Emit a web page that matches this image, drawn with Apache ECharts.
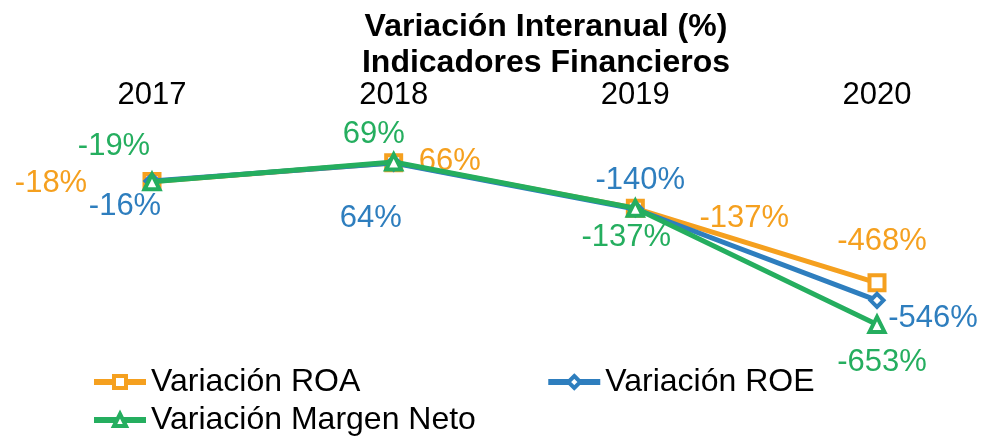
<!DOCTYPE html>
<html>
<head>
<meta charset="utf-8">
<script src="https://cdn.jsdelivr.net/npm/echarts@6/dist/echarts.min.js"></script>
<style>html,body{margin:0;padding:0;background:#fff}#c{width:984px;height:436px}</style>
</head>
<body>
<div id="c"></div>
<script>
const categories = ['2017', '2018', '2019', '2020'];
const seriesNames = ['Variación ROA', 'Variación ROE', 'Variación Margen Neto'];
const roa = [-18, 66, -137, -468];
const roe = [-16, 64, -140, -546];
const margenNeto = [-19, 69, -137, -653];

const FONT = '"Liberation Sans", Arial, sans-serif';
const colors = ['#F5A01F', '#2E7EBE', '#25AE5F'];
// label offsets (styling only)
const labelOffsets = [
  [[-101, 2], [56, -1], [109, 10], [5, -41]],
  [[-27, 25], [-23, 55], [5, -29], [56, 18]],
  [[-38, -35], [-20, -28], [-9, 29], [5, 38]]
];
const symbols = ['rect', 'diamond', 'triangle'];
const symbolSizes = [15, 13, 15];
const values = [roa, roe, margenNeto];

const series = seriesNames.map((name, i) => ({
  name: name,
  type: 'line',
  symbol: symbols[i],
  symbolSize: symbolSizes[i],
  showAllSymbol: true,
  lineStyle: { color: colors[i], width: 5 },
  itemStyle: { color: '#fff', borderColor: colors[i], borderWidth: 4 },
  data: values[i].map((v, j) => ({
    value: v,
    label: {
      show: true,
      position: 'inside',
      offset: labelOffsets[i][j],
      formatter: v + '%',
      color: colors[i],
      fontSize: 31,
      fontFamily: FONT
    }
  })),
  emphasis: { disabled: true },
  z: 2 + i
}));

const legendCommon = {
  padding: 0,
  itemWidth: 52, itemHeight: 15, itemGap: 185,
  lineStyle: { width: 6 },
  itemStyle: { borderWidth: 4 },
  textStyle: { fontFamily: FONT, fontSize: 32, color: '#000' },
  selectedMode: false
};

const chart = echarts.init(document.getElementById('c'), null, { renderer: 'canvas' });
chart.setOption({
  animation: false,
  backgroundColor: '#fff',
  title: {
    text: 'Variación Interanual (%)\nIndicadores Financieros',
    left: 541,
    textAlign: 'center',
    top: 4,
    textStyle: { fontFamily: FONT, fontWeight: 'bold', fontSize: 32, lineHeight: 36, color: '#000' }
  },
  legend: [
    Object.assign({ data: [seriesNames[0], seriesNames[1]], left: 91, top: 366 }, legendCommon),
    Object.assign({ data: [seriesNames[2]], left: 91, top: 404 }, legendCommon)
  ],
  grid: { left: 152, right: 107, top: 155, bottom: 101, containLabel: false },
  xAxis: {
    type: 'category',
    data: categories,
    position: 'top',
    boundaryGap: false,
    axisLine: { show: false },
    axisTick: { show: false },
    splitLine: { show: false },
    axisLabel: { fontFamily: FONT, fontSize: 31, color: '#000', margin: 44 }
  },
  yAxis: {
    type: 'value',
    min: -700, max: 100, interval: 100,
    show: false,
    splitLine: { show: false }
  },
  series: series
});
</script>
</body>
</html>
